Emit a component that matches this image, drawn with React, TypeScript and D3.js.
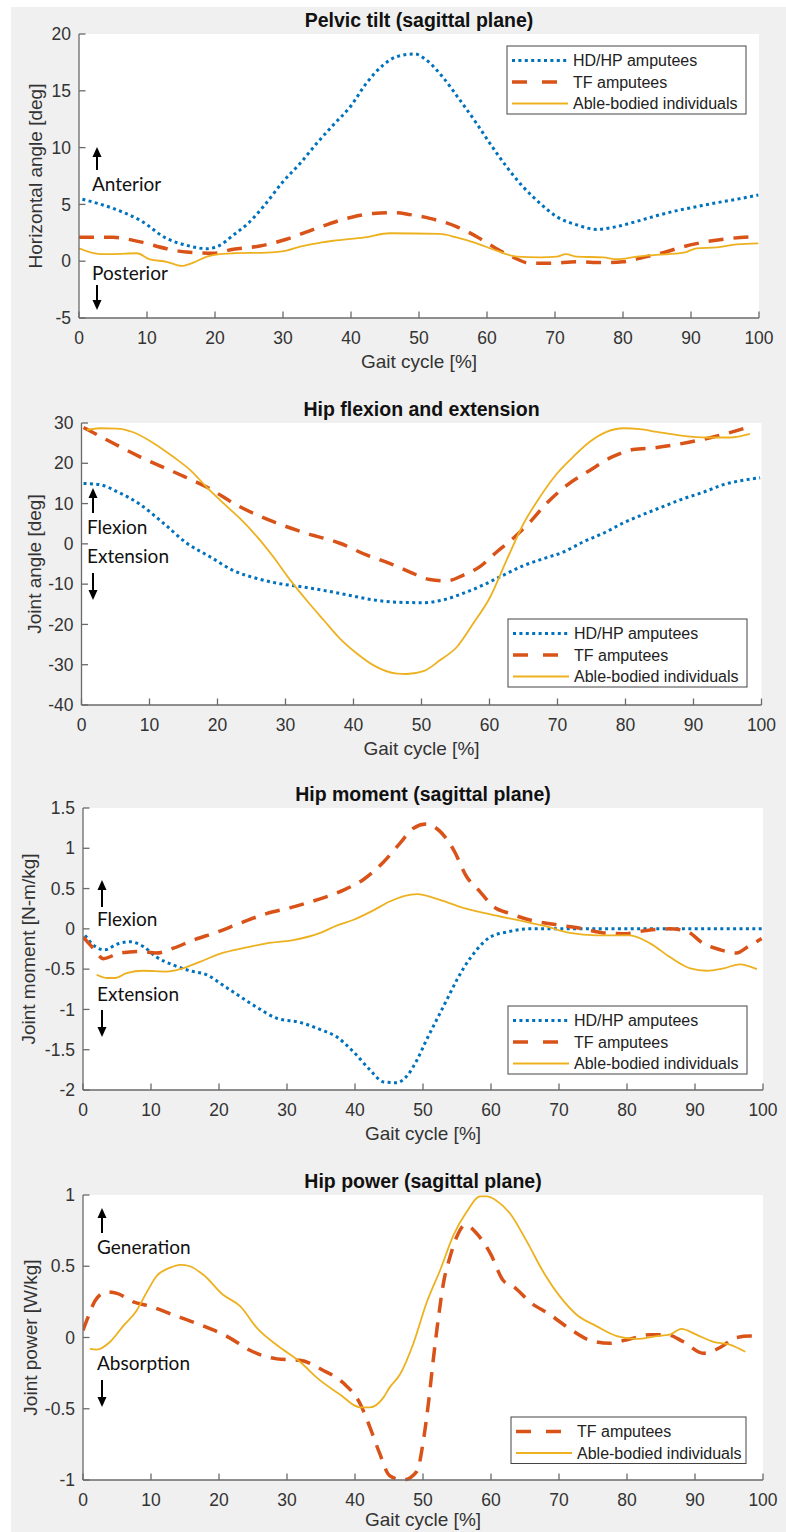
import React from "react";
import * as d3 from "d3";

// ---------------- DATA ----------------
const xTicks = [0, 10, 20, 30, 40, 50, 60, 70, 80, 90, 100];

// Panel 1: Pelvic tilt
const pelvicTicks = [-5, 0, 5, 10, 15, 20];
const pelvicHD_x = [0.5, 5, 9, 12.9, 15.8, 18.8, 20.7, 22.7, 24.9, 27.1, 30, 32.5, 35, 37.4, 39.9, 42.3, 44.8, 46.7, 49.4, 51.1, 53.5, 56, 58.5, 60.4, 62.9, 65.3, 67.8, 70.3, 73.2, 76.1, 79.1, 82, 84.9, 87.9, 90.8, 93.8, 96.7, 99.9];
const pelvicHD_y = [5.45, 4.65, 3.6, 2.0, 1.4, 1.1, 1.4, 2.3, 3.35, 4.8, 7.0, 8.6, 10.4, 12.0, 13.6, 15.7, 17.3, 18.0, 18.24, 17.7, 16.2, 14.2, 12.1, 10.4, 8.3, 6.55, 5.1, 3.9, 3.2, 2.8, 3.05, 3.5, 4.0, 4.45, 4.8, 5.15, 5.45, 5.83];
const pelvicTF_x = [0, 5, 9, 12.9, 15.8, 19.7, 22.7, 26.6, 30.5, 34.5, 39.4, 43.3, 46.7, 48.7, 51.6, 55.5, 58.5, 61.4, 63.9, 66.3, 69.3, 73.2, 77.1, 80, 83, 85.9, 88.9, 92.3, 95.7, 99.9];
const pelvicTF_y = [2.1, 2.1, 1.7, 1.1, 0.8, 0.7, 1.05, 1.34, 1.93, 2.8, 3.77, 4.2, 4.27, 4.1, 3.77, 3.05, 2.16, 1.1, 0.34, -0.18, -0.18, -0.05, -0.12, -0.05, 0.34, 0.75, 1.28, 1.72, 2.0, 2.16];
const pelvicAB_x = [0, 3.1, 5, 8.5, 10.4, 12.9, 15.1, 16.8, 18.8, 20.7, 22.7, 27.6, 30.5, 32.5, 35.5, 37.4, 42, 45.7, 53.1, 55.5, 58.5, 61.4, 64.4, 67.8, 70.3, 71.6, 73.2, 77.1, 79.1, 82, 84.9, 88.9, 90.8, 93.8, 96.7, 99.9];
const pelvicAB_y = [1.13, 0.63, 0.63, 0.7, 0.17, -0.05, -0.42, -0.13, 0.4, 0.63, 0.7, 0.75, 0.93, 1.28, 1.63, 1.8, 2.1, 2.46, 2.4, 2.1, 1.57, 0.93, 0.4, 0.34, 0.4, 0.63, 0.4, 0.34, 0.17, 0.4, 0.55, 0.75, 1.13, 1.22, 1.48, 1.57];

// Panel 2: Hip flexion and extension
const flexTicks = [-40, -30, -20, -10, 0, 10, 20, 30];
const flexHD_x = [0.3, 2.7, 5.2, 8.6, 12, 15.5, 18.9, 22.3, 25.8, 29.2, 32.6, 36.1, 39.5, 42.9, 46.4, 50.3, 53.2, 56.1, 59.1, 62, 65, 67.9, 70.9, 73.8, 76.7, 79.7, 82.6, 85.6, 88.5, 91.4, 94.4, 97.3, 99.8];
const flexHD_y = [15.0, 14.7, 13.0, 9.8, 5.2, 0.15, -3.2, -6.6, -8.6, -9.9, -10.7, -11.7, -12.8, -13.9, -14.5, -14.6, -13.9, -12.3, -10.2, -7.8, -5.4, -3.7, -2.0, 0.5, 2.6, 5.2, 7.3, 9.3, 11.2, 12.8, 14.7, 15.8, 16.4];
const flexTF_x = [0.3, 4.2, 8.6, 13.5, 18.4, 23.3, 28.2, 33.1, 38, 41.9, 45.4, 48.3, 51.2, 53.7, 56.1, 58.6, 61.1, 63.5, 66, 68.4, 71.4, 74.8, 78.2, 81.1, 84.6, 88, 91.4, 94.9, 98.3];
const flexTF_y = [28.9, 25.4, 21.6, 17.9, 14.1, 9.2, 5.5, 2.6, 0.15, -2.75, -4.9, -7.0, -8.85, -9.2, -7.8, -5.65, -1.95, 1.4, 5.5, 10.05, 14.6, 18.3, 21.7, 23.4, 23.9, 24.8, 25.95, 27.4, 29.1];
const flexAB_x = [0.8, 2.7, 5.2, 7.6, 10.6, 13.5, 16, 18.4, 20.9, 23.3, 25.8, 28.2, 30.7, 33.1, 35.6, 38, 40.5, 42.9, 46.4, 47.8, 50.3, 52.7, 55.2, 57.6, 60.1, 62.5, 65, 67.4, 69.9, 72.3, 74.8, 77.2, 79.7, 82.1, 84.6, 88.5, 91.9, 95.4, 98.3];
const flexAB_y = [28.3, 28.7, 28.6, 27.7, 25.0, 21.6, 18.3, 14.1, 10.05, 6.3, 1.8, -3.2, -9.0, -14.0, -18.9, -23.5, -27.2, -30.1, -32.2, -32.3, -31.6, -28.9, -25.6, -19.8, -13.2, -4.1, 5.0, 11.6, 17.4, 21.6, 25.4, 27.8, 28.7, 28.5, 27.8, 26.8, 26.4, 26.4, 27.3];

// Panel 3: Hip moment
const momentTicks = [-2, -1.5, -1, -0.5, 0, 0.5, 1, 1.5];
const momentHD_x = [0.3, 1.8, 3.2, 5, 6.9, 8.9, 10.8, 13.3, 15.7, 18.2, 20.6, 23.1, 25.5, 28.5, 31.9, 34.9, 37.3, 39.7, 42.2, 44.2, 46.1, 47.6, 49.1, 50.5, 52, 53.5, 55, 56.4, 57.9, 59.9, 62.3, 65.7, 70, 80, 90, 100];
const momentHD_y = [-0.08, -0.22, -0.26, -0.19, -0.16, -0.22, -0.35, -0.45, -0.52, -0.57, -0.7, -0.84, -0.97, -1.11, -1.16, -1.25, -1.34, -1.52, -1.75, -1.9, -1.91, -1.83, -1.63, -1.38, -1.13, -0.88, -0.63, -0.43, -0.26, -0.1, -0.04, 0, 0, 0, 0, 0];
const momentTF_x = [0, 1.5, 3, 5.4, 8.4, 10.8, 13.3, 16.2, 19.7, 23.1, 27, 30.4, 34.4, 38.3, 41.2, 44.2, 46.6, 48.6, 50.5, 52.5, 54.5, 56.4, 58.4, 60.3, 62.8, 65.7, 69.7, 73.6, 76.5, 79.5, 82.9, 86.3, 88.8, 91.2, 93.7, 96.1, 97.8, 99.8];
const momentTF_y = [-0.1, -0.24, -0.37, -0.3, -0.28, -0.3, -0.24, -0.14, -0.04, 0.07, 0.19, 0.26, 0.36, 0.48, 0.61, 0.83, 1.06, 1.25, 1.3, 1.21, 0.98, 0.65, 0.46, 0.28, 0.19, 0.11, 0.05, 0, -0.05, -0.06, -0.02, 0, -0.03, -0.18, -0.26, -0.3, -0.22, -0.12];
const momentAB_x = [2, 3.5, 4.7, 6.4, 8.9, 12.3, 14.3, 17.2, 20.1, 24.1, 27, 30.9, 34.9, 37.3, 39.7, 42.7, 45.1, 49.1, 52.5, 55.9, 59.9, 63.8, 67.7, 71.6, 75.5, 80.4, 83.4, 86.3, 89.3, 91.7, 94.2, 96.6, 99.1];
const momentAB_y = [-0.57, -0.61, -0.61, -0.55, -0.52, -0.53, -0.5, -0.41, -0.31, -0.23, -0.18, -0.14, -0.05, 0.04, 0.11, 0.23, 0.34, 0.43, 0.36, 0.26, 0.18, 0.11, 0.04, -0.05, -0.08, -0.08, -0.18, -0.35, -0.49, -0.52, -0.49, -0.44, -0.5];

// Panel 4: Hip power
const powerTicks = [-1, -0.5, 0, 0.5, 1];
const powerTF_x = [0, 0.8, 1.8, 3.5, 5, 7.4, 9.8, 13.2, 17.2, 21.1, 25, 28.5, 31.9, 35.3, 38.3, 40.7, 42.2, 43.6, 45.1, 47.1, 49.1, 50, 50.8, 51.5, 52.3, 53, 54, 55, 56.2, 57.9, 59.9, 61.8, 63.5, 65.7, 68.7, 71.6, 74.6, 77.5, 80.4, 83.4, 85.8, 88.3, 91.2, 93.7, 96.1, 98.1, 99.6];
const powerTF_y = [0.05, 0.15, 0.26, 0.32, 0.31, 0.25, 0.22, 0.16, 0.09, 0.01, -0.1, -0.15, -0.16, -0.23, -0.32, -0.46, -0.63, -0.81, -0.97, -1.0, -0.94, -0.74, -0.46, -0.16, 0.15, 0.38, 0.57, 0.71, 0.79, 0.73, 0.59, 0.4, 0.35, 0.25, 0.16, 0.06, -0.02, -0.04, -0.01, 0.02, 0.02, -0.03, -0.11, -0.07, 0, 0.01, 0.01];
const powerAB_x = [1, 2, 4, 5.9, 7.9, 9.4, 10.8, 12.8, 14.3, 15.7, 17.7, 20.6, 23.1, 25.7, 28.7, 31.9, 34.6, 37.8, 40.7, 42.2, 44.2, 45.1, 46.6, 48.6, 50.5, 52.5, 54.5, 56.4, 58.4, 59.4, 60.8, 62.8, 65.2, 67.7, 70.1, 72.6, 75.5, 78.5, 81.4, 84.4, 86.3, 88, 90.2, 92.7, 95.1, 97.4];
const powerAB_y = [-0.08, -0.085, -0.03, 0.08, 0.19, 0.32, 0.43, 0.49, 0.51, 0.5, 0.44, 0.3, 0.22, 0.06, -0.06, -0.17, -0.29, -0.4, -0.49, -0.49, -0.42, -0.35, -0.26, -0.04, 0.24, 0.47, 0.72, 0.88, 0.99, 0.99, 0.96, 0.87, 0.68, 0.46, 0.29, 0.16, 0.08, 0.01, -0.01, 0.01, 0.02, 0.06, 0.02, -0.03, -0.05, -0.1];

const seriesNames = ["HD/HP amputees", "TF amputees", "Able-bodied individuals"];

// ---------------- STYLES ----------------
const styles: Record<string, any> = {
  HD: { stroke: "#0072BD", width: 3, dash: "3,3.4", legendDash: "3,3.4", name: seriesNames[0] },
  TF: { stroke: "#D95319", width: 3.5, dash: "15,10", legendDash: "15,15", name: seriesNames[1] },
  AB: { stroke: "#EDB120", width: 1.8, dash: null, legendDash: null, name: seriesNames[2] },
};

const zip = (xs: number[], ys: number[]) => xs.map((v, i) => [v, ys[i]] as [number, number]);

const panels = [
  {
    id: "p1", title: "Pelvic tilt (sagittal plane)", ylabel: "Horizontal angle [deg]", ylabelX: 42, xlabelDy: 50,
    left: 79, right: 759, top: 34, bottom: 318, yDomain: [-5, 20], yTicks: pelvicTicks,
    series: [
      { key: "HD", data: zip(pelvicHD_x, pelvicHD_y) },
      { key: "TF", data: zip(pelvicTF_x, pelvicTF_y) },
      { key: "AB", data: zip(pelvicAB_x, pelvicAB_y) },
    ],
    legend: { x: 507, y: 46, w: 239, keys: ["HD", "TF", "AB"] },
    ann: { ax: 97, upTail: 170, upTip: 147, t1: "Anterior", t1y: 191, t2: "Posterior", t2y: 280, dnTail: 285, dnTip: 310, tx: 92 },
  },
  {
    id: "p2", title: "Hip flexion and extension", ylabel: "Joint angle [deg]", ylabelX: 40.5, xlabelDy: 50,
    left: 81.5, right: 761.5, top: 423, bottom: 705, yDomain: [-40, 30], yTicks: flexTicks,
    series: [
      { key: "HD", data: zip(flexHD_x, flexHD_y) },
      { key: "TF", data: zip(flexTF_x, flexTF_y) },
      { key: "AB", data: zip(flexAB_x, flexAB_y) },
    ],
    legend: { x: 508, y: 619, w: 239, keys: ["HD", "TF", "AB"] },
    ann: { ax: 93, upTail: 513, upTip: 488, t1: "Flexion", t1y: 534, t2: "Extension", t2y: 563, dnTail: 573, dnTip: 600, tx: 87 },
  },
  {
    id: "p3", title: "Hip moment (sagittal plane)", ylabel: "Joint moment [N-m/kg]", ylabelX: 35, xlabelDy: 50,
    left: 83, right: 763, top: 808, bottom: 1090, yDomain: [-2, 1.5], yTicks: momentTicks,
    series: [
      { key: "HD", data: zip(momentHD_x, momentHD_y) },
      { key: "TF", data: zip(momentTF_x, momentTF_y) },
      { key: "AB", data: zip(momentAB_x, momentAB_y) },
    ],
    legend: { x: 508, y: 1006, w: 239, keys: ["HD", "TF", "AB"] },
    ann: { ax: 102, upTail: 907, upTip: 880, t1: "Flexion", t1y: 926, t2: "Extension", t2y: 1001, dnTail: 1010, dnTip: 1037, tx: 97 },
  },
  {
    id: "p4", title: "Hip power (sagittal plane)", ylabel: "Joint power [W/kg]", ylabelX: 36.5, xlabelDy: 46,
    left: 83, right: 763, top: 1195, bottom: 1480, yDomain: [-1, 1], yTicks: powerTicks,
    series: [
      { key: "TF", data: zip(powerTF_x, powerTF_y) },
      { key: "AB", data: zip(powerAB_x, powerAB_y) },
    ],
    legend: { x: 511, y: 1417, w: 235, keys: ["TF", "AB"] },
    ann: { ax: 102, upTail: 1233, upTip: 1208, t1: "Generation", t1y: 1254, t2: "Absorption", t2y: 1370, dnTail: 1380, dnTip: 1407, tx: 97 },
  },
];

const AXIS = "#6a6a6a";
const TICKTXT = "#333";
const FONT = "'Liberation Sans', Arimo, Arial, sans-serif";
const ANNFONT = "Lato, 'Open Sans', sans-serif";

function Arrow({ x, tail, tip }: { x: number; tail: number; tip: number }) {
  const dir = tip < tail ? -1 : 1;
  const headLen = 10;
  const baseY = tip - dir * headLen;
  return (
    <g>
      <line x1={x} x2={x} y1={tail} y2={baseY} stroke="#000" strokeWidth={2} />
      <path d={`M${x - 4.5},${baseY} L${x + 4.5},${baseY} L${x},${tip} Z`} fill="#000" />
    </g>
  );
}

function Panel({ p }: { p: any }) {
  const x = d3.scaleLinear().domain([0, 100]).range([p.left, p.right]);
  const y = d3.scaleLinear().domain(p.yDomain).range([p.bottom, p.top]);
  const line = d3
    .line<[number, number]>()
    .x((d) => x(d[0]))
    .y((d) => y(d[1]))
    .curve(d3.curveMonotoneX);
  const tickLen = 6.5;
  const cx = (p.left + p.right) / 2;
  const lg = p.legend;
  const rowH = 21.5;
  const lgH = 25 + (lg.keys.length - 1) * rowH;
  return (
    <g>
      <defs>
        <clipPath id={`clip-${p.id}`}>
          <rect x={p.left} y={p.top - 2} width={p.right - p.left + 4} height={p.bottom - p.top + 4} />
        </clipPath>
      </defs>
      <rect x={p.left} y={p.top} width={p.right - p.left} height={p.bottom - p.top} fill="#fff" />
      <g clipPath={`url(#clip-${p.id})`}>
        {p.series.map((s: any) => {
          const st = styles[s.key];
          return (
            <path
              key={s.key}
              d={line(s.data) || ""}
              fill="none"
              stroke={st.stroke}
              strokeWidth={st.width}
              strokeDasharray={st.dash || undefined}
              strokeLinejoin="round"
            />
          );
        })}
      </g>
      {/* axes */}
      <line x1={p.left} x2={p.left} y1={p.top} y2={p.bottom} stroke={AXIS} strokeWidth={1.3} />
      <line x1={p.left} x2={p.right} y1={p.bottom} y2={p.bottom} stroke={AXIS} strokeWidth={1.3} />
      {xTicks.map((t) => (
        <g key={`xt${t}`}>
          <line x1={x(t)} x2={x(t)} y1={p.bottom} y2={p.bottom - tickLen} stroke={AXIS} strokeWidth={1.3} />
          <text x={x(t)} y={p.bottom + 26} textAnchor="middle" fontSize={17.5} fill={TICKTXT} fontFamily={FONT}>
            {t}
          </text>
        </g>
      ))}
      {p.yTicks.map((t: number) => (
        <g key={`yt${t}`}>
          <line x1={p.left} x2={p.left + tickLen} y1={y(t)} y2={y(t)} stroke={AXIS} strokeWidth={1.3} />
          <text x={p.left - 8} y={y(t) + 6.2} textAnchor="end" fontSize={17.5} fill={TICKTXT} fontFamily={FONT}>
            {String(t)}
          </text>
        </g>
      ))}
      {/* titles */}
      <text x={cx} y={p.top - 7} textAnchor="middle" fontSize={19.5} fontWeight="bold" fill="#111" fontFamily={FONT}>
        {p.title}
      </text>
      <text x={cx} y={p.bottom + p.xlabelDy} textAnchor="middle" fontSize={19} fill={TICKTXT} fontFamily={FONT}>
        Gait cycle [%]
      </text>
      <text
        transform={`translate(${p.ylabelX},${(p.top + p.bottom) / 2}) rotate(-90)`}
        textAnchor="middle"
        fontSize={19}
        fill={TICKTXT}
        fontFamily={FONT}
      >
        {p.ylabel}
      </text>
      {/* legend */}
      <rect x={lg.x} y={lg.y} width={lg.w} height={lgH} fill="#fff" stroke="#444" strokeWidth={1} />
      {lg.keys.map((k: string, i: number) => {
        const st = styles[k];
        const ry = lg.y + 14.5 + i * rowH;
        return (
          <g key={`lg${k}`}>
            <line
              x1={lg.x + 5}
              x2={lg.x + 61}
              y1={ry}
              y2={ry}
              stroke={st.stroke}
              strokeWidth={st.width}
              strokeDasharray={st.legendDash || undefined}
            />
            <text x={lg.x + 66} y={ry + 5.8} fontSize={16} fill="#222" fontFamily={FONT}>
              {st.name}
            </text>
          </g>
        );
      })}
      {/* annotations */}
      <Arrow x={p.ann.ax} tail={p.ann.upTail} tip={p.ann.upTip} />
      <text x={p.ann.tx} y={p.ann.t1y} fontSize={19} fill="#111" fontFamily={ANNFONT}>
        {p.ann.t1}
      </text>
      <text x={p.ann.tx} y={p.ann.t2y} fontSize={19} fill="#111" fontFamily={ANNFONT}>
        {p.ann.t2}
      </text>
      <Arrow x={p.ann.ax} tail={p.ann.dnTail} tip={p.ann.dnTip} />
    </g>
  );
}

export default function App() {
  return (
    <svg
      width={786}
      height={1532}
      style={{ position: "absolute", left: 0, top: 0, display: "block" }}
      xmlns="http://www.w3.org/2000/svg"
    >
      <rect x={0} y={0} width={786} height={1532} fill="#fff" />
      <rect x={11} y={7} width={775} height={1525} fill="#f0f0f0" />
      {panels.map((p) => (
        <Panel key={p.id} p={p} />
      ))}
    </svg>
  );
}
